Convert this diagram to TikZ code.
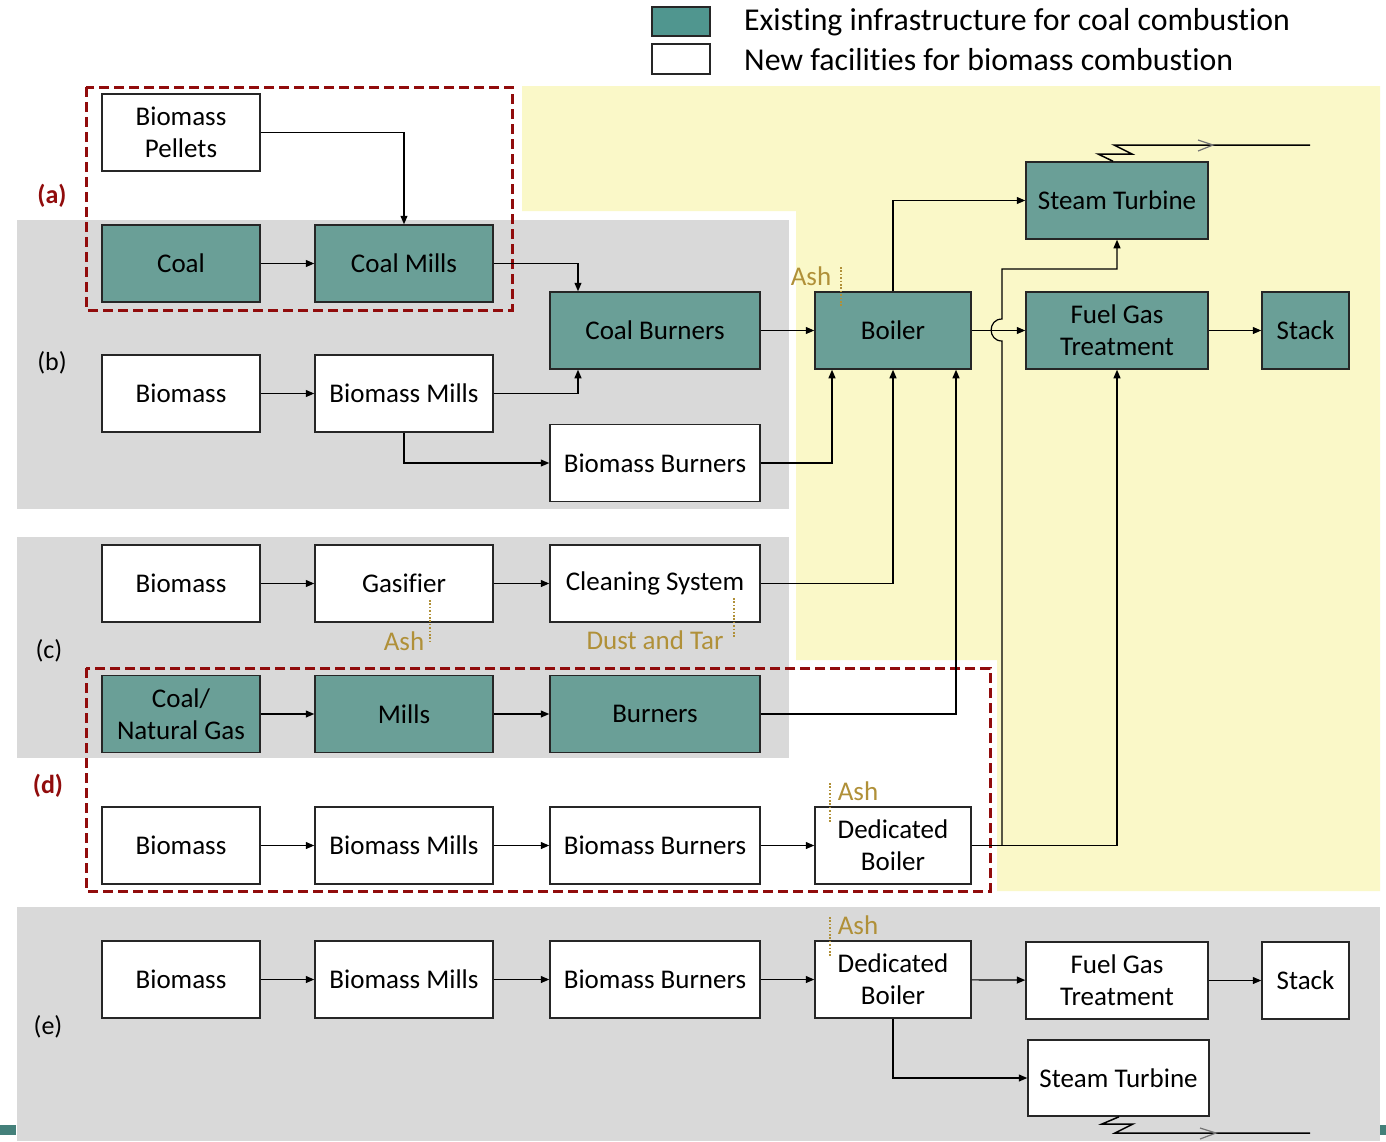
\documentclass[tikz,border=0pt]{standalone}
\usepackage{fontspec}
\setmainfont[Ligatures=NoCommon]{Carlito}
\usetikzlibrary{arrows.meta,calc}
\definecolor{tealx}{RGB}{106,159,151}
\definecolor{legteal}{RGB}{80,150,143}
\definecolor{greybg}{RGB}{217,217,217}
\definecolor{yellbg}{RGB}{250,248,200}
\definecolor{dred}{RGB}{145,12,12}
\definecolor{ashc}{RGB}{176,144,56}
\tikzset{
  box/.style={draw=black!85, line width=1.5pt, align=center, inner sep=0pt,
    font=\fontsize{27}{32}\selectfont, minimum height=77pt},
  exist/.style={box, fill=tealx},
  newf/.style={box, fill=white},
  conn/.style={line width=1.2pt, -{Triangle[length=8.5pt,width=7pt]}},
  plain/.style={line width=1.2pt},
  ashline/.style={draw=ashc, line width=1.6pt, dash pattern=on 1.6pt off 1.8pt},
  ashtext/.style={text=ashc, inner sep=0pt, font=\fontsize{27}{32}\selectfont},
  redbox/.style={draw=dred, line width=3pt, dash pattern=on 10pt off 5pt},
  lab/.style={inner sep=0pt, font=\fontsize{26}{30}\selectfont},
  leg/.style={inner sep=0pt, anchor=west, font=\fontsize{31.8}{36}\selectfont},
  elec/.style={line width=1.5pt, line join=miter},
  chev/.style={draw=black!55, line width=1.2pt}
}
\begin{document}
\begin{tikzpicture}[x=1pt,y=-1pt]
\useasboundingbox (0,0) rectangle (1386,1141);
\fill[white] (0,0) rectangle (1386,1141);
% backgrounds
\fill[yellbg] (522,86) -- (1380,86) -- (1380,891) -- (997,891) -- (997,660) -- (796,660) -- (796,211) -- (522,211) -- cycle;
\fill[greybg] (17,220) rectangle (789,509);
\fill[greybg] (17,537) rectangle (789,758);
\fill[greybg] (17,907) rectangle (1380,1141);
\fill[legteal!85!black] (0,1125) rectangle (16,1135);
\fill[legteal!85!black] (1380,1125) rectangle (1386,1135);

% legend
\node[draw=black!85, line width=2pt, fill=legteal, minimum width=58pt, minimum height=29pt, inner sep=0pt] (legA) at (681,21.5) {};
\node[draw=black!85, line width=2pt, fill=white, minimum width=58pt, minimum height=30pt, inner sep=0pt] (legB) at (681,59) {};
\node[leg] (legAt) at (744,22) {Existing infrastructure for coal combustion};
\node[leg] (legBt) at (744,60) {New facilities for biomass combustion};

% row labels
\node[lab, text=dred, font=\fontsize{26}{30}\selectfont\bfseries] (la) at (52,196) {(a)};
\node[lab] (lb) at (52,363) {(b)};
\node[lab] (lc) at (49,651) {(c)};
\node[lab, text=dred, font=\fontsize{26}{30}\selectfont\bfseries] (ld) at (48,786) {(d)};
\node[lab] (le) at (48,1027) {(e)};

% boxes (a)/(b)
\node[newf, minimum width=158pt] (pel) at (181,132.5) {Biomass\\Pellets};
\node[exist, minimum width=158pt] (coal) at (181,263.5) {Coal};
\node[exist, minimum width=178pt] (cmills) at (404,263.5) {Coal Mills};
\node[exist, minimum width=210pt] (cburn) at (655,330.5) {Coal Burners};
\node[newf, minimum width=158pt] (biob) at (181,393.5) {Biomass};
\node[newf, minimum width=178pt] (bmb) at (404,393.5) {Biomass Mills};
\node[newf, minimum width=210pt] (bbb) at (655,463) {Biomass Burners};
\node[exist, minimum width=156pt] (boiler) at (893,330.5) {Boiler};
\node[exist, minimum width=182pt] (stT) at (1117,200.5) {Steam Turbine};
\node[exist, minimum width=182pt] (fgt) at (1117,330.5) {Fuel Gas\\Treatment};
\node[exist, minimum width=87pt] (stack) at (1305.5,330.5) {Stack};
% (c)
\node[newf, minimum width=158pt] (bioc) at (181,583.5) {Biomass};
\node[newf, minimum width=178pt] (gas) at (404,583.5) {Gasifier};
\node[newf, minimum width=210pt] (clean) at (655,583.5) {Cleaning System};
\node[exist, minimum width=158pt] (cng) at (181,714) {Coal/\\Natural Gas};
\node[exist, minimum width=178pt] (mills) at (404,714) {Mills};
\node[exist, minimum width=210pt] (burn) at (655,714) {Burners};
% (d)
\node[newf, minimum width=158pt] (biod) at (181,845.5) {Biomass};
\node[newf, minimum width=178pt] (bmd) at (404,845.5) {Biomass Mills};
\node[newf, minimum width=210pt] (bbd) at (655,845.5) {Biomass Burners};
\node[newf, minimum width=156pt] (dbd) at (893,845.5) {Dedicated\\Boiler};
% (e)
\node[newf, minimum width=158pt] (bioe) at (181,979.5) {Biomass};
\node[newf, minimum width=178pt] (bme) at (404,979.5) {Biomass Mills};
\node[newf, minimum width=210pt] (bbe) at (655,979.5) {Biomass Burners};
\node[newf, minimum width=156pt] (dbe) at (893,979.5) {Dedicated\\Boiler};
\node[newf, minimum width=182pt] (fgte) at (1117,980.5) {Fuel Gas\\Treatment};
\node[newf, minimum width=87pt] (stacke) at (1305.5,980.5) {Stack};
\node[newf, minimum width=181pt, minimum height=76pt] (ste) at (1118.5,1078) {Steam Turbine};

% red dashed boxes
\draw[redbox] (86,87) rectangle (512,310);
\draw[redbox] (86,668) rectangle (990,891);

% connectors (a)/(b)
\draw[conn] (pel.east) -| (cmills.north);
\draw[conn] (coal) -- (cmills);
\draw[conn] (cmills.east) -| ([xshift=-77pt]cburn.north);
\draw[conn] (biob) -- (bmb);
\draw[conn] (bmb.east) -| ([xshift=-77pt]cburn.south);
\draw[conn] (bmb.south) |- (bbb.west);
\draw[conn] (cburn) -- (boiler);
\draw[conn] (bbb.east) -| ([xshift=-61pt]boiler.south);
\draw[conn] (boiler.north) |- (stT.west);
\draw[conn] (boiler) -- (fgt);
\draw[conn] (fgt) -- (stack);
% (c)
\draw[conn] (bioc) -- (gas);
\draw[conn] (gas) -- (clean);
\draw[conn] (clean.east) -| (boiler.south);
\draw[conn] (cng) -- (mills);
\draw[conn] (mills) -- (burn);
\draw[conn] (burn.east) -| ([xshift=63pt]boiler.south);
% (d)
\draw[conn] (biod) -- (bmd);
\draw[conn] (bmd) -- (bbd);
\draw[conn] (bbd) -- (dbd);
\draw[conn] (dbd.east) -| (fgt.south);
\coordinate (br) at (1002,845.5);
\coordinate (jb) at (1002,341);
\coordinate (jt) at (1002,319);
\coordinate (bk) at (1002,269);
\draw[conn] (br) -- (jb) .. controls (987.5,341) and (987.5,319) .. (jt) -- (bk) -| (stT.south);
% (e)
\draw[conn] (bioe) -- (bme);
\draw[conn] (bme) -- (bbe);
\draw[conn] (bbe) -- (dbe);
\draw[conn] (dbe) -- (fgte);
\draw[conn] (fgte) -- (stacke);
\draw[conn] (dbe.south) |- (ste.west);

% electricity lines
\coordinate (e1) at (1310,145);
\draw[elec] ([xshift=-4pt]stT.north) -- (1098,154) -- (1132,154) -- (1114,145) -- (e1);
\draw[chev] (1198,140) -- (1213,145) -- (1198,151);
\coordinate (e2) at (1310,1133);
\draw[elec] ([xshift=0.5pt]ste.south) -- (1102,1124) -- (1133,1124) -- (1115,1133) -- (e2);
\draw[chev] (1200,1128) -- (1216,1133) -- (1200,1139);

% ash labels
\node[ashtext] (ash1) at (811,276) {Ash};
\draw[ashline] (841,267) -- (841,307);
\node[ashtext] (ash2) at (404,641) {Ash};
\draw[ashline] (430,600) -- (430,641);
\node[ashtext] (dust) at (655,640) {Dust and Tar};
\draw[ashline] (734,598) -- (734,638);
\node[ashtext] (ash3) at (858,791) {Ash};
\draw[ashline] (830,783) -- (830,823);
\node[ashtext] (ash4) at (858,925) {Ash};
\draw[ashline] (830,917) -- (830,957);
\end{tikzpicture}
\end{document}
